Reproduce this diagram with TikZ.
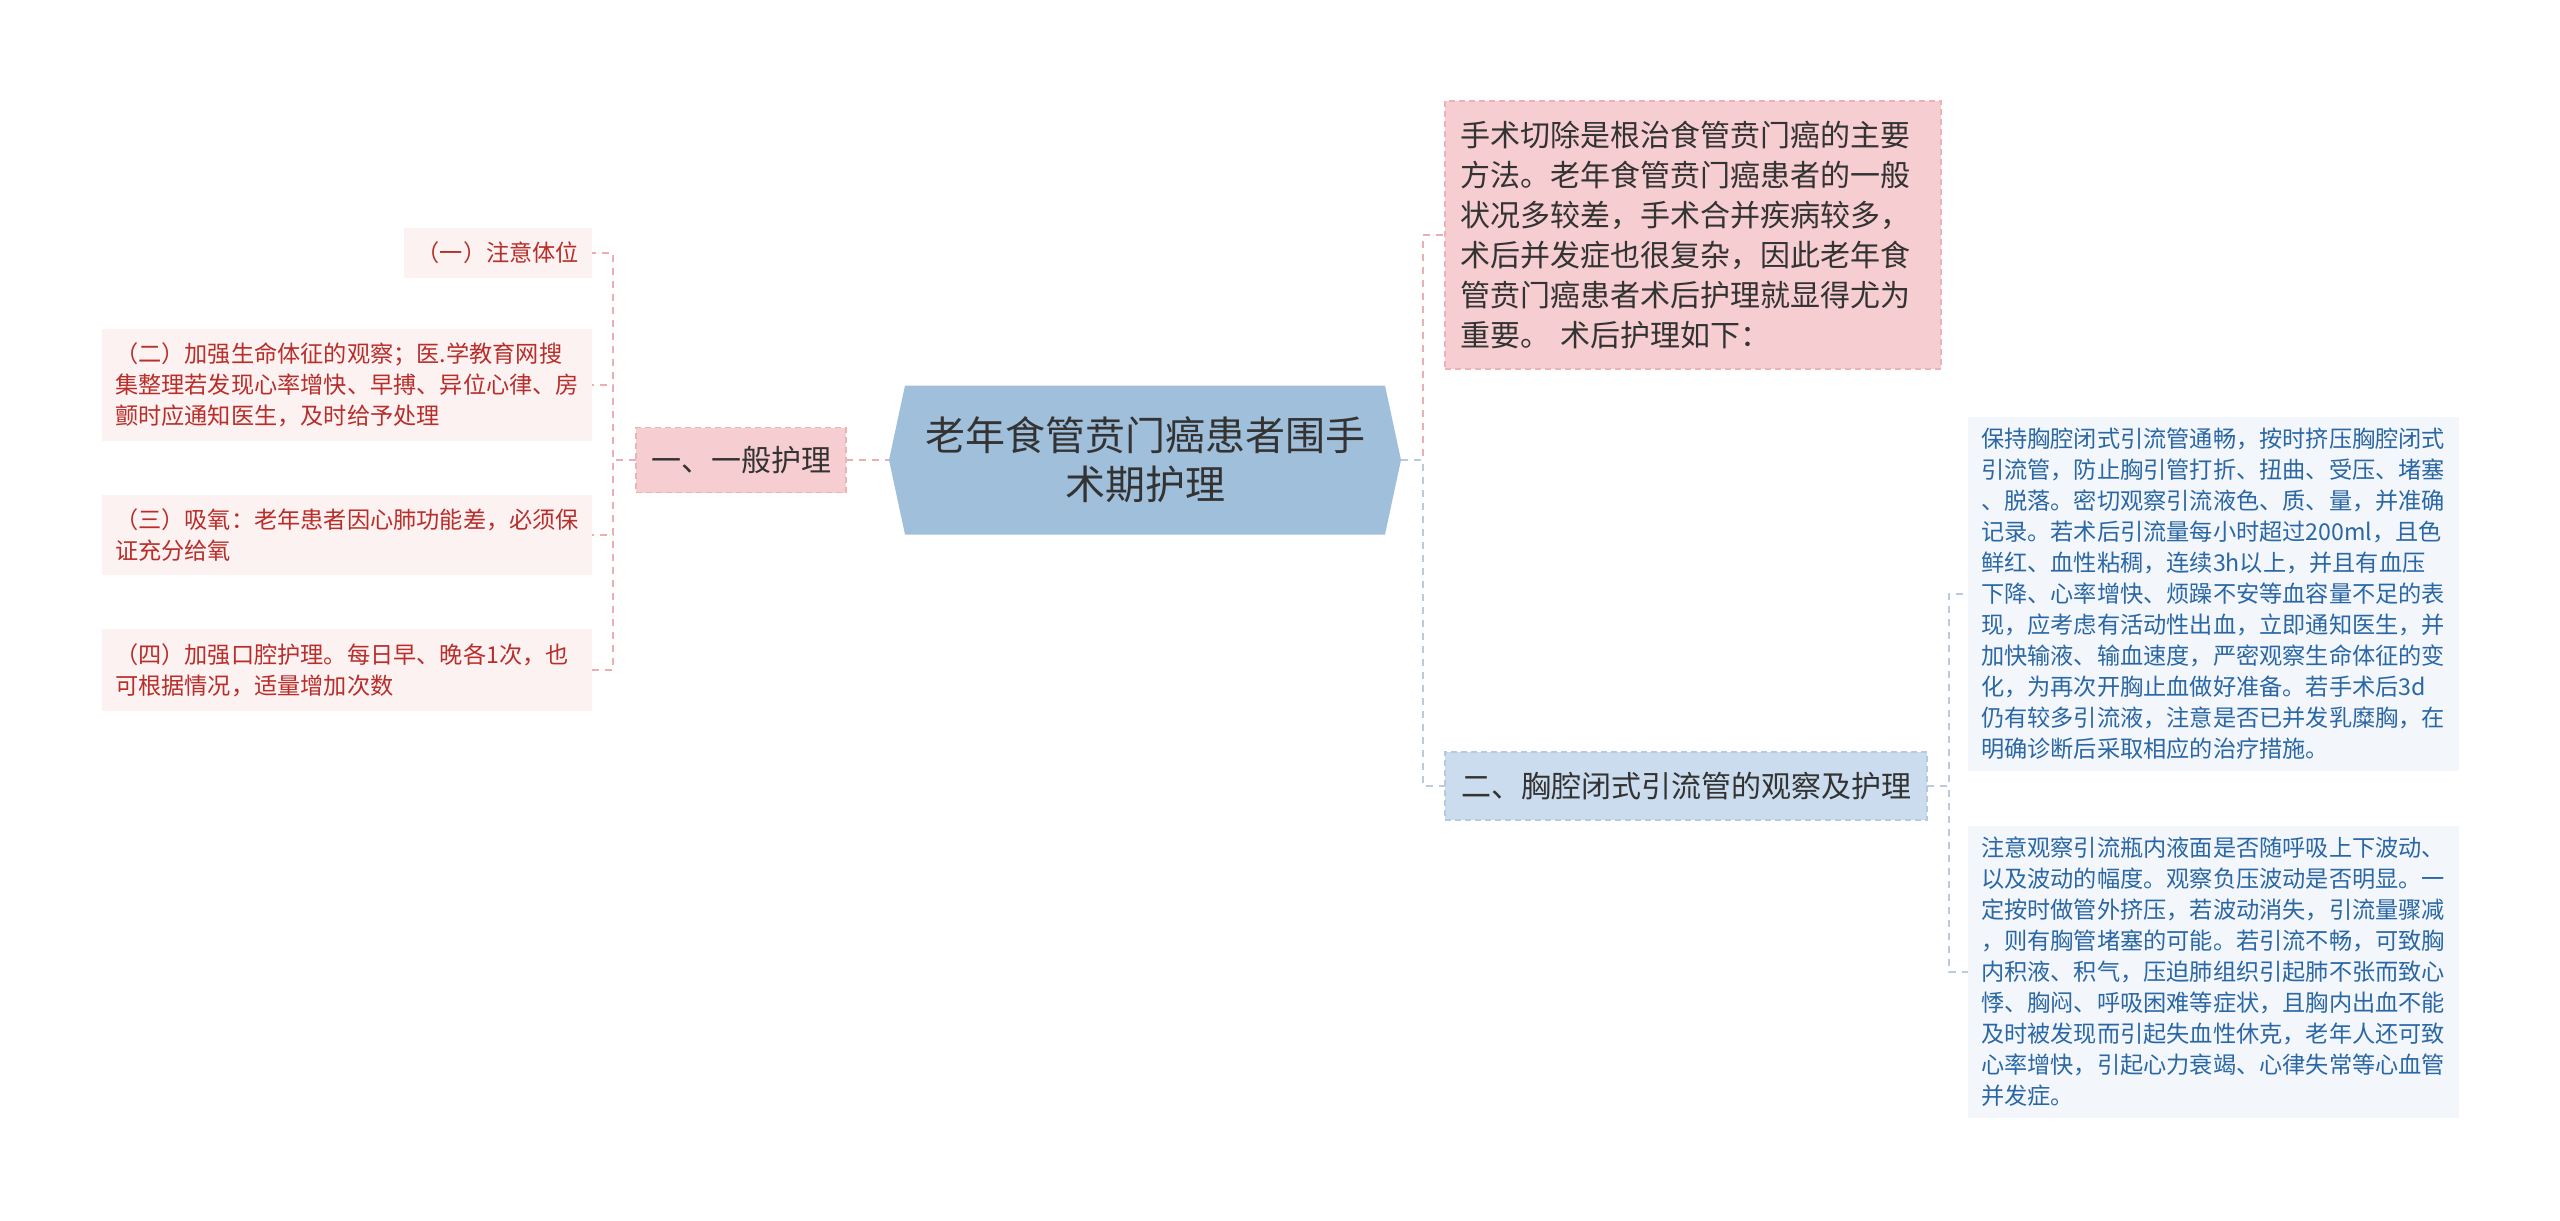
\documentclass[tikz,border=0pt]{standalone}
\usepackage{fontspec}
\setmainfont{Noto Sans CJK SC}
\usepackage{tikz}
\usetikzlibrary{calc,positioning}

\definecolor{rootfill}{HTML}{A0BFDB}
\definecolor{pinkfill}{HTML}{F6CED1}
\definecolor{pinkedge}{HTML}{EDB2B6}
\definecolor{bluefill}{HTML}{CADCED}
\definecolor{blueedge}{HTML}{B5CADF}
\definecolor{redleaffill}{HTML}{FDF2F2}
\definecolor{blueleaffill}{HTML}{F3F7FC}
\definecolor{redtxt}{HTML}{B82E2A}
\definecolor{bluetxt}{HTML}{2A67A4}
\definecolor{txtdark}{HTML}{333333}
\definecolor{lnpink}{HTML}{EBAEB3}
\definecolor{lnblue}{HTML}{BCCBDB}

\pgfdeclarelayer{background}
\pgfsetlayers{background,main}

\begin{document}
\begin{tikzpicture}[x=0.5pt, y=-0.5pt,
    every node/.style={inner sep=0pt, outer sep=0pt},
    hexnode/.style={minimum width=256pt, minimum height=74.5pt, align=center,
        text=txtdark, font=\fontsize{20pt}{24.5pt}\selectfont},
    pinkbox/.style={fill=pinkfill, draw=pinkedge, dash pattern=on 3pt off 2pt,
        line width=0.8pt, text=txtdark, align=left,
        font=\fontsize{15pt}{20pt}\selectfont},
    bluebox/.style={fill=bluefill, draw=blueedge, dash pattern=on 3pt off 2pt,
        line width=0.8pt, text=txtdark, align=left,
        font=\fontsize{15pt}{20pt}\selectfont},
    redleaf/.style={fill=redleaffill, text=redtxt, align=left,
        inner xsep=6.5pt, inner ysep=7pt,
        font=\fontsize{11.6pt}{15.5pt}\selectfont},
    blueleaf/.style={fill=blueleaffill, text=bluetxt, align=left,
        text width=232.5pt, inner xsep=6.5pt, inner ysep=5.5pt,
        font=\fontsize{11.6pt}{15.5pt}\selectfont},
    pinklink/.style={draw=lnpink, line width=1.2pt, dash pattern=on 3.5pt off 3pt},
    bluelink/.style={draw=lnblue, line width=1.2pt, dash pattern=on 3.5pt off 3pt}
]
\useasboundingbox (0,0) rectangle (2560,1221);

% centre
\node[hexnode] (root) at (1145,460) {老年食管贲门癌患者围手\\术期护理};
\begin{pgfonlayer}{background}
\fill[rootfill] (root.west) -- ([xshift=8pt]root.north west)
    -- ([xshift=-8pt]root.north east) -- (root.east)
    -- ([xshift=-8pt]root.south east) -- ([xshift=8pt]root.south west) -- cycle;
\end{pgfonlayer}

% left branch
\node[pinkbox, minimum width=105pt, minimum height=32.5pt, align=center] (gen) at (741,460) {一、一般护理};
\node[redleaf, anchor=east] (c1) at (592,253) {（一）注意体位};
\node[redleaf, anchor=east, text width=232pt] (c2) at (592,385) {（二）加强生命体征的观察；医.学教育网搜\\集整理若发现心率增快、早搏、异位心律、房\\颤时应通知医生，及时给予处理};
\node[redleaf, anchor=east, text width=232pt] (c3) at (592,535) {（三）吸氧：老年患者因心肺功能差，必须保\\证充分给氧};
\node[redleaf, anchor=east, text width=232pt] (c4) at (592,670) {（四）加强口腔护理。每日早、晚各1次，也\\可根据情况，适量增加次数};

% right branch
\node[pinkbox, anchor=west, text width=233pt, inner xsep=7.5pt, inner ysep=10pt] (intro) at (1445,235) {手术切除是根治食管贲门癌的主要\\方法。老年食管贲门癌患者的一般\\状况多较差，手术合并疾病较多，\\术后并发症也很复杂，因此老年食\\管贲门癌患者术后护理就显得尤为\\重要。 术后护理如下：};
\node[bluebox, anchor=west, inner xsep=8pt, inner ysep=10pt] (drain) at (1445,786) {二、胸腔闭式引流管的观察及护理};
\node[blueleaf, anchor=west] (d1) at (1968,594) {保持胸腔闭式引流管通畅，按时挤压胸腔闭式\\引流管，防止胸引管打折、扭曲、受压、堵塞\\、脱落。密切观察引流液色、质、量，并准确\\记录。若术后引流量每小时超过200ml，且色\\鲜红、血性粘稠，连续3h以上，并且有血压\\下降、心率增快、烦躁不安等血容量不足的表\\现，应考虑有活动性出血，立即通知医生，并\\加快输液、输血速度，严密观察生命体征的变\\化，为再次开胸止血做好准备。若手术后3d\\仍有较多引流液，注意是否已并发乳糜胸，在\\明确诊断后采取相应的治疗措施。};
\node[blueleaf, anchor=west] (d2) at (1968,972) {注意观察引流瓶内液面是否随呼吸上下波动、\\以及波动的幅度。观察负压波动是否明显。一\\定按时做管外挤压，若波动消失，引流量骤减\\，则有胸管堵塞的可能。若引流不畅，可致胸\\内积液、积气，压迫肺组织引起肺不张而致心\\悸、胸闷、呼吸困难等症状，且胸内出血不能\\及时被发现而引起失血性休克，老年人还可致\\心率增快，引起心力衰竭、心律失常等心血管\\并发症。};

\begin{pgfonlayer}{background}
\draw[pinklink] (gen.east) -- (root.west);
\draw[pinklink] (gen.west) -- ++(-23,0) |- (c1.east);
\draw[pinklink] (gen.west) -- ++(-23,0) |- (c2.east);
\draw[pinklink] (gen.west) -- ++(-23,0) |- (c3.east);
\draw[pinklink] (gen.west) -- ++(-23,0) |- (c4.east);
\draw[pinklink] (root.east) -- ++(22,0) |- (intro.west);
\draw[bluelink] (root.east) -- ++(22,0) |- (drain.west);
\draw[bluelink] (drain.east) -- ++(22,0) |- (d1.west);
\draw[bluelink] (drain.east) -- ++(22,0) |- (d2.west);
\end{pgfonlayer}
\end{tikzpicture}
\end{document}
